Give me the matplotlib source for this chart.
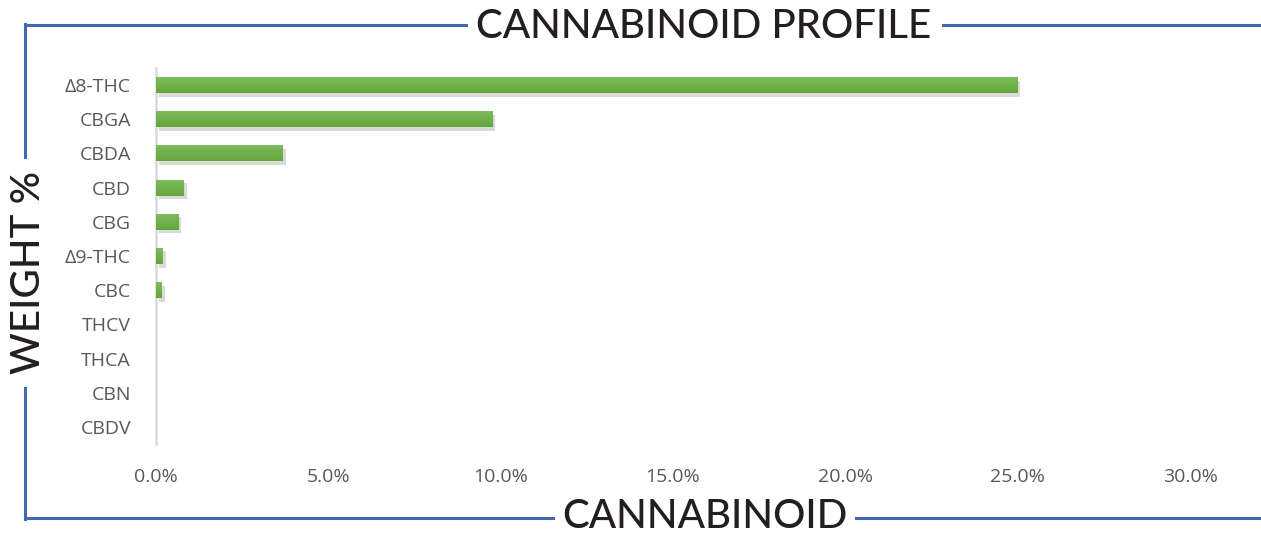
import matplotlib
matplotlib.use("Agg")
import numpy as np
import matplotlib.pyplot as plt
import matplotlib.patheffects as pe
from matplotlib.lines import Line2D
from matplotlib.ticker import FuncFormatter
from matplotlib.colors import LinearSegmentedColormap

# data (weight %)
cannabinoids = ["Δ8-THC", "CBGA", "CBDA", "CBD", "CBG", "Δ9-THC",
                "CBC", "THCV", "THCA", "CBN", "CBDV"]
weights = [25.0, 9.75, 3.68, 0.81, 0.64, 0.20, 0.17, 0.0, 0.0, 0.0, 0.0]
xticks = [0, 5, 10, 15, 20, 25, 30]

W, H = 1261, 537
fig = plt.figure(figsize=(W / 100, H / 100), dpi=100)
fig.patch.set_facecolor("white")

# plot area in pixels
left, right, top, bottom = 156, 1190, 68, 444
ax = fig.add_axes([left / W, 1 - bottom / H, (right - left) / W, (bottom - top) / H])

ypos = list(range(len(cannabinoids)))
bars = ax.barh(ypos, weights, height=0.47, color="#6cae44", zorder=3)

# soft shadow + vertical green gradient on each bar
grad = LinearSegmentedColormap.from_list("g", ["#80bd5e", "#62a63b"])
shade = np.linspace(0, 1, 64).reshape(-1, 1)
for b in bars:
    if b.get_width() <= 0:
        continue
    b.set_path_effects([pe.SimplePatchShadow(offset=(2, -2.5), shadow_rgbFace="#000000", alpha=0.15),
                        pe.Normal()])
    x0, y0 = b.get_x(), b.get_y()
    im = ax.imshow(shade, cmap=grad, aspect="auto", zorder=4,
                   extent=[x0, x0 + b.get_width(), y0 + b.get_height(), y0])
    im.set_clip_path(b)

ax.set_xlim(0, 30)
ax.set_ylim(len(cannabinoids) - 0.5, -0.5)
ax.set_yticks(ypos)
ax.set_yticklabels(cannabinoids)
ax.set_xticks(xticks)
ax.xaxis.set_major_formatter(FuncFormatter(lambda v, p: f"{v:.1f}%"))

lab_font = ["Open Sans", "DejaVu Sans"]
for t in ax.get_yticklabels() + ax.get_xticklabels():
    t.set_family(lab_font)
    t.set_fontsize(14)
    t.set_color("#595959")
ax.tick_params(axis="both", length=0)
ax.tick_params(axis="y", pad=18)
ax.tick_params(axis="x", pad=17)

for s in ["top", "right", "bottom"]:
    ax.spines[s].set_visible(False)
ax.spines["left"].set_color("#d9d9d9")
ax.spines["left"].set_linewidth(1.8)

# blue frame lines with gaps for the titles
blue = "#4468b0"
def fline(x0, y0, x1, y1):
    fig.add_artist(Line2D([x0 / W, x1 / W], [1 - y0 / H, 1 - y1 / H],
                          transform=fig.transFigure, color=blue, linewidth=2.2))

fline(25, 25, 466, 25)
fline(943, 25, W, 25)
fline(25, 518, 553, 518)
fline(856, 518, W, 518)
fline(25, 24, 25, 157)
fline(25, 388, 25, 519)

title_font = ["Lato", "DejaVu Sans"]
fig.text(704 / W, 1 - 38 / H, "CANNABINOID PROFILE", ha="center", va="baseline",
         fontsize=29, fontweight="medium", color="#231f20", family=title_font)
fig.text(705 / W, 1 - 528 / H, "CANNABINOID", ha="center", va="baseline",
         fontsize=29, fontweight="medium", color="#231f20", family=title_font)
fig.text(29 / W, 1 - 272 / H, "WEIGHT %", ha="center", va="center", rotation=90,
         fontsize=29, fontweight="medium", color="#231f20", family=title_font)

fig.savefig("out.png", dpi=100, facecolor="white")
